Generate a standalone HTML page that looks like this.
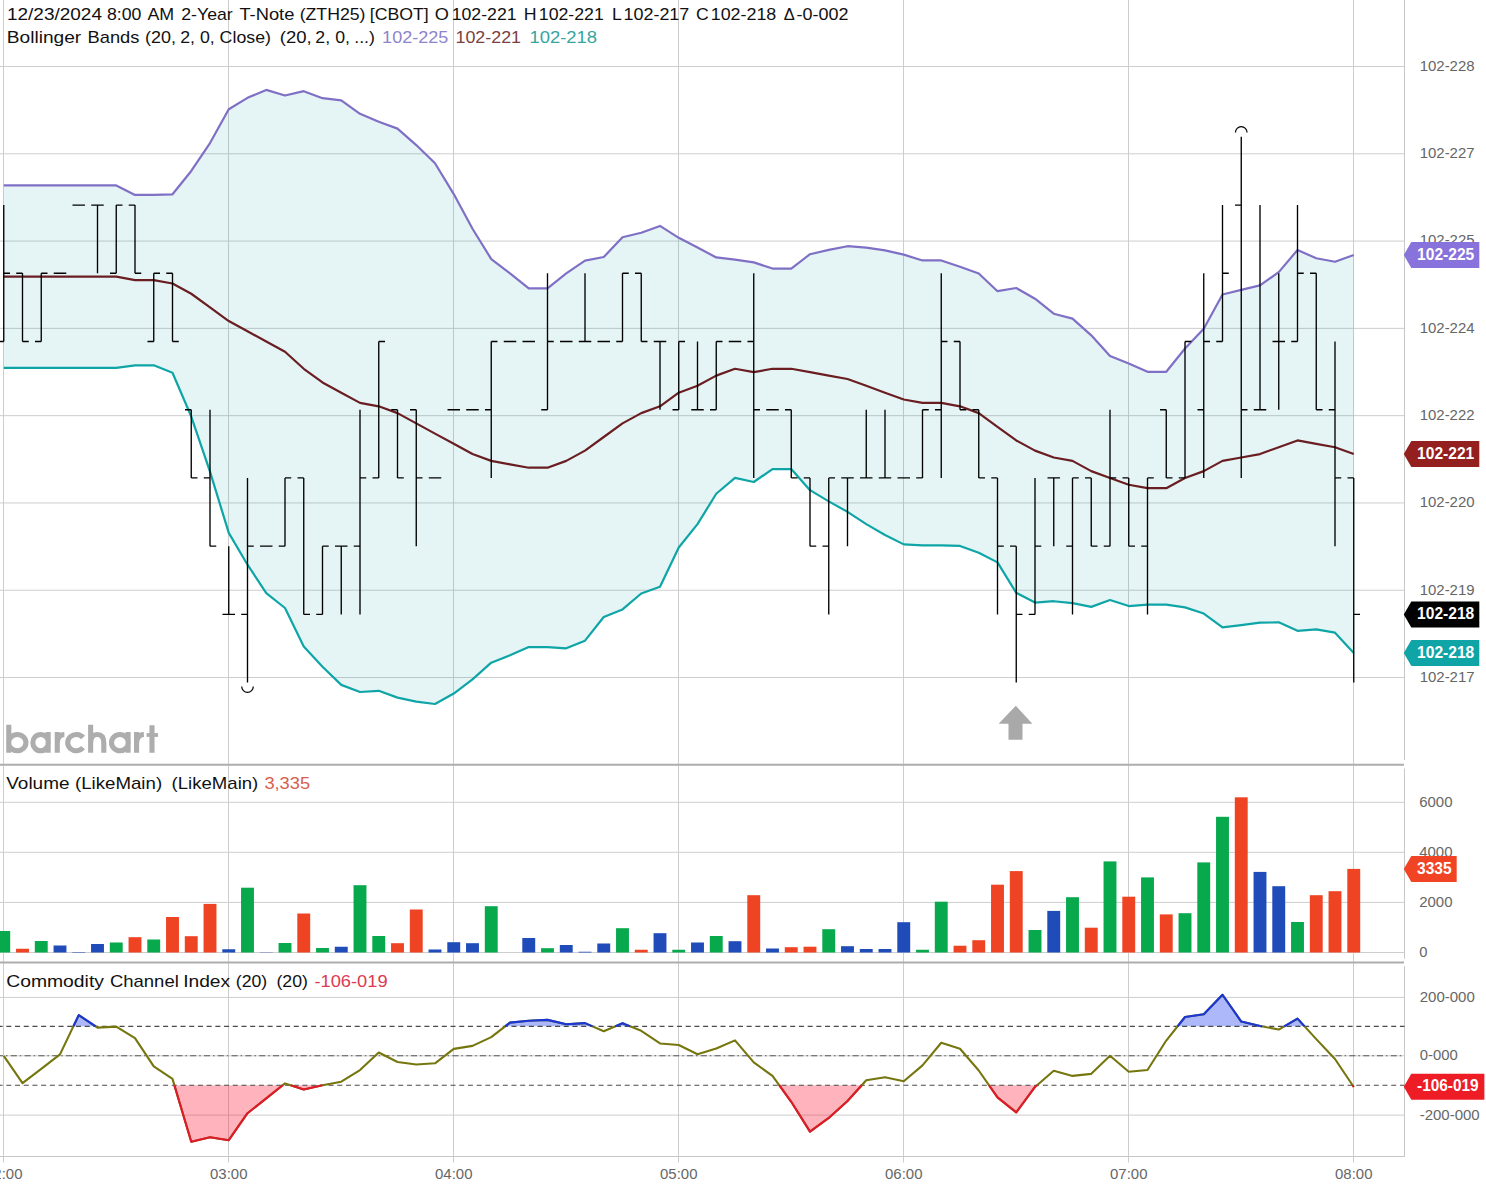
<!DOCTYPE html><html><head><meta charset="utf-8"><title>chart</title><style>html,body{margin:0;padding:0;background:#fff}svg{display:block}</style></head><body><svg width="1486" height="1191" viewBox="0 0 1486 1191" font-family="Liberation Sans, sans-serif">
<defs>
<clipPath id="cpA"><rect x="0" y="1026.37" width="1404.5" height="200"/></clipPath>
<clipPath id="cpUp"><rect x="0" y="960" width="1404.5" height="66.37"/></clipPath>
<clipPath id="cpDn"><rect x="0" y="1085.23" width="1404.5" height="70.77"/></clipPath>
<clipPath id="cpMain"><rect x="0" y="0" width="1404.5" height="764"/></clipPath>
</defs>
<rect width="1486" height="1191" fill="#fff"/>
<path d="M3.5 0V1162.5 M228.5 0V1162.5 M453.5 0V1162.5 M678.5 0V1162.5 M903.5 0V1162.5 M1128.5 0V1162.5 M1353.5 0V1162.5 M0 66.5H1404.5 M0 153.79H1404.5 M0 241.08H1404.5 M0 328.37H1404.5 M0 415.66H1404.5 M0 502.95H1404.5 M0 590.24H1404.5 M0 677.53H1404.5 M0 802.3H1404.5 M0 852.3H1404.5 M0 902.4H1404.5 M0 952.5H1404.5 M0 997.4H1404.5 M0 1115.1H1404.5" stroke="#cdcdcd" stroke-width="1" fill="none"/>
<path d="M1404.5 0V760 M1404.5 768.5V958.6 M1404.5 966.2V1157 M0 1156.5H1404.5" stroke="#c6c6c6" stroke-width="1" fill="none"/>
<path d="M0 764.85H1404 M0 962.5H1404" stroke="#adadad" stroke-width="2" fill="none"/>
<g clip-path="url(#cpMain)">
<polygon points="3.75,185.42 22.5,185.42 41.25,185.42 60,185.42 78.75,185.42 97.5,185.42 116.25,185.42 135,194.9 153.75,194.9 172.5,194.3 191.25,170.95 210,143.09 228.75,109.22 247.5,97.82 266.25,89.92 285,95.48 303.75,91.17 322.5,98.19 341.25,100.43 360,113.79 378.75,121.82 397.5,128.64 416.25,145.08 435,163.2 453.75,194.1 472.5,228.73 491.25,259.09 510,273.28 528.75,288.38 547.5,288.38 566.25,273.44 585,260.61 603.75,257.03 622.5,237.28 641.25,232.77 660,225.94 678.75,237.85 697.5,247.54 716.25,257.45 735,259.64 753.75,262.41 772.5,268.53 791.25,268.53 810,254.24 828.75,249.82 847.5,246.21 866.25,247.54 885,250.38 903.75,254.61 922.5,260.45 941.25,260.45 960,266.67 978.75,273.49 997.5,291.19 1016.25,288.03 1035,298.72 1053.75,313.73 1072.5,318.6 1091.25,335.36 1110,355.9 1128.75,363.49 1147.5,371.8 1166.25,371.8 1185,348.5 1203.75,328.67 1222.5,294.48 1241.25,289.81 1260,285.43 1278.75,272.11 1297.5,250.01 1316.25,258.25 1335,261.79 1353.75,255.05 1353.75,653.07 1335,632.69 1316.25,629.41 1297.5,630.82 1278.75,622.37 1260,622.69 1241.25,625.13 1222.5,627.29 1203.75,613.57 1185,607.38 1166.25,604.55 1147.5,604.55 1128.75,606.03 1110,599.98 1091.25,606.87 1072.5,603.17 1053.75,601.22 1035,602.59 1016.25,592.81 997.5,562.36 978.75,552.77 960,545.95 941.25,545.35 922.5,545.35 903.75,544.36 885,534.95 866.25,524.15 847.5,511.83 828.75,501.4 810,490.16 791.25,469.05 772.5,469.05 753.75,481.99 735,477.94 716.25,493.77 697.5,524.15 678.75,547.48 660,586.67 641.25,593.5 622.5,609.44 603.75,616.98 585,640.69 566.25,648.33 547.5,647.04 528.75,647.04 510,655.31 491.25,662.68 472.5,679.4 453.75,693.56 435,703.99 416.25,701.65 397.5,697.62 378.75,690.8 360,692.01 341.25,684.9 322.5,666.67 303.75,646.4 285,607.99 266.25,593.08 247.5,564.72 228.75,532.85 210,471.69 191.25,416.54 172.5,372.72 153.75,365.31 135,365.31 116.25,367.96 97.5,367.96 78.75,367.96 60,367.96 41.25,367.96 22.5,367.96 3.75,367.96" fill="#0fa5a7" fill-opacity="0.11"/>
<polyline points="3.75,185.42 22.5,185.42 41.25,185.42 60,185.42 78.75,185.42 97.5,185.42 116.25,185.42 135,194.9 153.75,194.9 172.5,194.3 191.25,170.95 210,143.09 228.75,109.22 247.5,97.82 266.25,89.92 285,95.48 303.75,91.17 322.5,98.19 341.25,100.43 360,113.79 378.75,121.82 397.5,128.64 416.25,145.08 435,163.2 453.75,194.1 472.5,228.73 491.25,259.09 510,273.28 528.75,288.38 547.5,288.38 566.25,273.44 585,260.61 603.75,257.03 622.5,237.28 641.25,232.77 660,225.94 678.75,237.85 697.5,247.54 716.25,257.45 735,259.64 753.75,262.41 772.5,268.53 791.25,268.53 810,254.24 828.75,249.82 847.5,246.21 866.25,247.54 885,250.38 903.75,254.61 922.5,260.45 941.25,260.45 960,266.67 978.75,273.49 997.5,291.19 1016.25,288.03 1035,298.72 1053.75,313.73 1072.5,318.6 1091.25,335.36 1110,355.9 1128.75,363.49 1147.5,371.8 1166.25,371.8 1185,348.5 1203.75,328.67 1222.5,294.48 1241.25,289.81 1260,285.43 1278.75,272.11 1297.5,250.01 1316.25,258.25 1335,261.79 1353.75,255.05" fill="none" stroke="#7f70c6" stroke-width="2.2" stroke-linejoin="round"/>
<polyline points="3.75,276.69 22.5,276.69 41.25,276.69 60,276.69 78.75,276.69 97.5,276.69 116.25,276.69 135,280.1 153.75,280.1 172.5,283.51 191.25,293.75 210,307.39 228.75,321.03 247.5,331.27 266.25,341.5 285,351.73 303.75,368.79 322.5,382.43 341.25,392.67 360,402.9 378.75,406.31 397.5,413.13 416.25,423.36 435,433.6 453.75,443.83 472.5,454.06 491.25,460.88 510,464.3 528.75,467.71 547.5,467.71 566.25,460.88 585,450.65 603.75,437.01 622.5,423.36 641.25,413.13 660,406.31 678.75,392.67 697.5,385.84 716.25,375.61 735,368.79 753.75,372.2 772.5,368.79 791.25,368.79 810,372.2 828.75,375.61 847.5,379.02 866.25,385.84 885,392.67 903.75,399.49 922.5,402.9 941.25,402.9 960,406.31 978.75,413.13 997.5,426.78 1016.25,440.42 1035,450.65 1053.75,457.47 1072.5,460.88 1091.25,471.12 1110,477.94 1128.75,484.76 1147.5,488.17 1166.25,488.17 1185,477.94 1203.75,471.12 1222.5,460.88 1241.25,457.47 1260,454.06 1278.75,447.24 1297.5,440.42 1316.25,443.83 1335,447.24 1353.75,454.06" fill="none" stroke="#6a1e22" stroke-width="2.2" stroke-linejoin="round"/>
<polyline points="3.75,367.96 22.5,367.96 41.25,367.96 60,367.96 78.75,367.96 97.5,367.96 116.25,367.96 135,365.31 153.75,365.31 172.5,372.72 191.25,416.54 210,471.69 228.75,532.85 247.5,564.72 266.25,593.08 285,607.99 303.75,646.4 322.5,666.67 341.25,684.9 360,692.01 378.75,690.8 397.5,697.62 416.25,701.65 435,703.99 453.75,693.56 472.5,679.4 491.25,662.68 510,655.31 528.75,647.04 547.5,647.04 566.25,648.33 585,640.69 603.75,616.98 622.5,609.44 641.25,593.5 660,586.67 678.75,547.48 697.5,524.15 716.25,493.77 735,477.94 753.75,481.99 772.5,469.05 791.25,469.05 810,490.16 828.75,501.4 847.5,511.83 866.25,524.15 885,534.95 903.75,544.36 922.5,545.35 941.25,545.35 960,545.95 978.75,552.77 997.5,562.36 1016.25,592.81 1035,602.59 1053.75,601.22 1072.5,603.17 1091.25,606.87 1110,599.98 1128.75,606.03 1147.5,604.55 1166.25,604.55 1185,607.38 1203.75,613.57 1222.5,627.29 1241.25,625.13 1260,622.69 1278.75,622.37 1297.5,630.82 1316.25,629.41 1335,632.69 1353.75,653.07" fill="none" stroke="#0fa5a7" stroke-width="2.2" stroke-linejoin="round"/>
<path d="M3.75 205.06V341.5 M-2.5 341.5H3.75 M3.75 273.28H10 M22.5 273.28V341.5 M16.25 273.28H22.5 M22.5 341.5H28.75 M41.25 273.28V341.5 M35 341.5H41.25 M41.25 273.28H47.5 M53.75 273.28H60 M60 273.28H66.25 M72.5 205.06H78.75 M78.75 205.06H85 M97.5 205.06V273.28 M91.25 205.06H97.5 M97.5 205.06H103.75 M116.25 205.06V273.28 M110 273.28H116.25 M116.25 205.06H122.5 M135 205.06V273.28 M128.75 205.06H135 M135 273.28H141.25 M153.75 273.28V341.5 M147.5 341.5H153.75 M153.75 273.28H160 M172.5 273.28V341.5 M166.25 273.28H172.5 M172.5 341.5H178.75 M191.25 409.72V477.94 M185 409.72H191.25 M191.25 477.94H197.5 M210 409.72V546.16 M203.75 477.94H210 M210 546.16H216.25 M228.75 546.16V614.38 M222.5 614.38H228.75 M228.75 614.38H235 M247.5 477.94V682.6 M241.25 614.38H247.5 M247.5 546.16H253.75 M260 546.16H266.25 M266.25 546.16H272.5 M285 477.94V546.16 M278.75 546.16H285 M285 477.94H291.25 M303.75 477.94V614.38 M297.5 477.94H303.75 M303.75 614.38H310 M322.5 546.16V614.38 M316.25 614.38H322.5 M322.5 546.16H328.75 M341.25 546.16V614.38 M335 546.16H341.25 M341.25 546.16H347.5 M360 409.72V614.38 M353.75 546.16H360 M360 477.94H366.25 M378.75 341.5V477.94 M372.5 477.94H378.75 M378.75 341.5H385 M397.5 409.72V477.94 M391.25 409.72H397.5 M397.5 477.94H403.75 M416.25 409.72V546.16 M410 409.72H416.25 M416.25 477.94H422.5 M428.75 477.94H435 M435 477.94H441.25 M447.5 409.72H453.75 M453.75 409.72H460 M466.25 409.72H472.5 M472.5 409.72H478.75 M491.25 341.5V477.94 M485 409.72H491.25 M491.25 341.5H497.5 M503.75 341.5H510 M510 341.5H516.25 M522.5 341.5H528.75 M528.75 341.5H535 M547.5 273.28V409.72 M541.25 409.72H547.5 M547.5 341.5H553.75 M560 341.5H566.25 M566.25 341.5H572.5 M585 273.28V341.5 M578.75 341.5H585 M585 341.5H591.25 M597.5 341.5H603.75 M603.75 341.5H610 M622.5 273.28V341.5 M616.25 341.5H622.5 M622.5 273.28H628.75 M641.25 273.28V341.5 M635 273.28H641.25 M641.25 341.5H647.5 M660 341.5V409.72 M653.75 341.5H660 M660 341.5H666.25 M678.75 341.5V409.72 M672.5 409.72H678.75 M678.75 341.5H685 M697.5 341.5V409.72 M691.25 409.72H697.5 M697.5 409.72H703.75 M716.25 341.5V409.72 M710 409.72H716.25 M716.25 341.5H722.5 M728.75 341.5H735 M735 341.5H741.25 M753.75 273.28V477.94 M747.5 341.5H753.75 M753.75 409.72H760 M766.25 409.72H772.5 M772.5 409.72H778.75 M791.25 409.72V477.94 M785 409.72H791.25 M791.25 477.94H797.5 M810 477.94V546.16 M803.75 477.94H810 M810 546.16H816.25 M828.75 477.94V614.38 M822.5 546.16H828.75 M828.75 477.94H835 M847.5 477.94V546.16 M841.25 477.94H847.5 M847.5 477.94H853.75 M866.25 409.72V477.94 M860 477.94H866.25 M866.25 477.94H872.5 M885 409.72V477.94 M878.75 477.94H885 M885 477.94H891.25 M897.5 477.94H903.75 M903.75 477.94H910 M922.5 409.72V477.94 M916.25 477.94H922.5 M922.5 409.72H928.75 M941.25 273.28V477.94 M935 409.72H941.25 M941.25 341.5H947.5 M960 341.5V409.72 M953.75 341.5H960 M960 409.72H966.25 M978.75 409.72V477.94 M972.5 409.72H978.75 M978.75 477.94H985 M997.5 477.94V614.38 M991.25 477.94H997.5 M997.5 546.16H1003.75 M1016.25 546.16V682.6 M1010 546.16H1016.25 M1016.25 614.38H1022.5 M1035 477.94V614.38 M1028.75 614.38H1035 M1035 546.16H1041.25 M1053.75 477.94V546.16 M1047.5 477.94H1053.75 M1053.75 477.94H1060 M1072.5 477.94V614.38 M1066.25 546.16H1072.5 M1072.5 477.94H1078.75 M1091.25 477.94V546.16 M1085 477.94H1091.25 M1091.25 546.16H1097.5 M1110 409.72V546.16 M1103.75 546.16H1110 M1110 477.94H1116.25 M1128.75 477.94V546.16 M1122.5 477.94H1128.75 M1128.75 546.16H1135 M1147.5 477.94V614.38 M1141.25 546.16H1147.5 M1147.5 477.94H1153.75 M1166.25 409.72V477.94 M1160 409.72H1166.25 M1166.25 477.94H1172.5 M1185 341.5V477.94 M1178.75 477.94H1185 M1185 341.5H1191.25 M1203.75 273.28V477.94 M1197.5 409.72H1203.75 M1203.75 341.5H1210 M1222.5 205.06V341.5 M1216.25 341.5H1222.5 M1222.5 273.28H1228.75 M1241.25 136.84V477.94 M1235 205.06H1241.25 M1241.25 409.72H1247.5 M1260 205.06V409.72 M1253.75 409.72H1260 M1260 409.72H1266.25 M1278.75 273.28V409.72 M1272.5 341.5H1278.75 M1278.75 341.5H1285 M1297.5 205.06V341.5 M1291.25 341.5H1297.5 M1297.5 273.28H1303.75 M1316.25 273.28V409.72 M1310 273.28H1316.25 M1316.25 409.72H1322.5 M1335 341.5V546.16 M1328.75 409.72H1335 M1335 477.94H1341.25 M1353.75 477.94V682.6 M1347.5 477.94H1353.75 M1353.75 614.38H1360" stroke="#000" stroke-width="1.35" fill="none"/>
<path d="M1235.45 132.5a5.8 5.8 0 0 1 11.6 0" stroke="#000" stroke-width="1.2" fill="none"/>
<path d="M241.7 686.5a5.8 5.8 0 0 0 11.6 0" stroke="#000" stroke-width="1.2" fill="none"/>
</g>
<path d="M1015.8 705.7 L1032.4 723.7 H1022.5 V739.8 H1008.5 V723.7 H998.6 Z" fill="#a9a9a9"/>
<rect x="-2.7" y="931" width="12.9" height="21.5" fill="#07a94c"/>
<rect x="16.05" y="948.75" width="12.9" height="3.75" fill="#ef4423"/>
<rect x="34.8" y="941" width="12.9" height="11.5" fill="#07a94c"/>
<rect x="53.55" y="945.5" width="12.9" height="7" fill="#1f4cb8"/>
<rect x="72.3" y="952" width="12.9" height="0.5" fill="#1f4cb8"/>
<rect x="91.05" y="944" width="12.9" height="8.5" fill="#1f4cb8"/>
<rect x="109.8" y="942.5" width="12.9" height="10" fill="#07a94c"/>
<rect x="128.55" y="937.2" width="12.9" height="15.3" fill="#ef4423"/>
<rect x="147.3" y="939.5" width="12.9" height="13" fill="#07a94c"/>
<rect x="166.05" y="917" width="12.9" height="35.5" fill="#ef4423"/>
<rect x="184.8" y="936.2" width="12.9" height="16.3" fill="#ef4423"/>
<rect x="203.55" y="903.9" width="12.9" height="48.6" fill="#ef4423"/>
<rect x="222.3" y="949.25" width="12.9" height="3.25" fill="#1f4cb8"/>
<rect x="241.05" y="887.7" width="12.9" height="64.8" fill="#07a94c"/>
<rect x="259.8" y="952.25" width="12.9" height="0.25" fill="#1f4cb8"/>
<rect x="278.55" y="943" width="12.9" height="9.5" fill="#07a94c"/>
<rect x="297.3" y="913.5" width="12.9" height="39" fill="#ef4423"/>
<rect x="316.05" y="948" width="12.9" height="4.5" fill="#07a94c"/>
<rect x="334.8" y="946.75" width="12.9" height="5.75" fill="#1f4cb8"/>
<rect x="353.55" y="885.2" width="12.9" height="67.3" fill="#07a94c"/>
<rect x="372.3" y="936" width="12.9" height="16.5" fill="#07a94c"/>
<rect x="391.05" y="943.2" width="12.9" height="9.3" fill="#ef4423"/>
<rect x="409.8" y="909.5" width="12.9" height="43" fill="#ef4423"/>
<rect x="428.55" y="949.5" width="12.9" height="3" fill="#1f4cb8"/>
<rect x="447.3" y="942.2" width="12.9" height="10.3" fill="#1f4cb8"/>
<rect x="466.05" y="943.2" width="12.9" height="9.3" fill="#1f4cb8"/>
<rect x="484.8" y="906.2" width="12.9" height="46.3" fill="#07a94c"/>
<rect x="522.3" y="938" width="12.9" height="14.5" fill="#1f4cb8"/>
<rect x="541.05" y="948.2" width="12.9" height="4.3" fill="#07a94c"/>
<rect x="559.8" y="945" width="12.9" height="7.5" fill="#1f4cb8"/>
<rect x="578.55" y="951.75" width="12.9" height="0.75" fill="#1f4cb8"/>
<rect x="597.3" y="943.5" width="12.9" height="9" fill="#1f4cb8"/>
<rect x="616.05" y="928.2" width="12.9" height="24.3" fill="#07a94c"/>
<rect x="634.8" y="949.75" width="12.9" height="2.75" fill="#ef4423"/>
<rect x="653.55" y="933.2" width="12.9" height="19.3" fill="#1f4cb8"/>
<rect x="672.3" y="949.75" width="12.9" height="2.75" fill="#07a94c"/>
<rect x="691.05" y="942.5" width="12.9" height="10" fill="#1f4cb8"/>
<rect x="709.8" y="936" width="12.9" height="16.5" fill="#07a94c"/>
<rect x="728.55" y="941.2" width="12.9" height="11.3" fill="#1f4cb8"/>
<rect x="747.3" y="895.2" width="12.9" height="57.3" fill="#ef4423"/>
<rect x="766.05" y="948.5" width="12.9" height="4" fill="#1f4cb8"/>
<rect x="784.8" y="947.2" width="12.9" height="5.3" fill="#ef4423"/>
<rect x="803.55" y="946.7" width="12.9" height="5.8" fill="#ef4423"/>
<rect x="822.3" y="929.2" width="12.9" height="23.3" fill="#07a94c"/>
<rect x="841.05" y="946.2" width="12.9" height="6.3" fill="#1f4cb8"/>
<rect x="859.8" y="949" width="12.9" height="3.5" fill="#1f4cb8"/>
<rect x="878.55" y="949" width="12.9" height="3.5" fill="#1f4cb8"/>
<rect x="897.3" y="922.2" width="12.9" height="30.3" fill="#1f4cb8"/>
<rect x="916.05" y="949.75" width="12.9" height="2.75" fill="#07a94c"/>
<rect x="934.8" y="901.7" width="12.9" height="50.8" fill="#07a94c"/>
<rect x="953.55" y="945.75" width="12.9" height="6.75" fill="#ef4423"/>
<rect x="972.3" y="940.2" width="12.9" height="12.3" fill="#ef4423"/>
<rect x="991.05" y="884.7" width="12.9" height="67.8" fill="#ef4423"/>
<rect x="1009.8" y="871.1" width="12.9" height="81.4" fill="#ef4423"/>
<rect x="1028.55" y="930" width="12.9" height="22.5" fill="#07a94c"/>
<rect x="1047.3" y="910.9" width="12.9" height="41.6" fill="#1f4cb8"/>
<rect x="1066.05" y="897.2" width="12.9" height="55.3" fill="#07a94c"/>
<rect x="1084.8" y="927.7" width="12.9" height="24.8" fill="#ef4423"/>
<rect x="1103.55" y="861.4" width="12.9" height="91.1" fill="#07a94c"/>
<rect x="1122.3" y="896.7" width="12.9" height="55.8" fill="#ef4423"/>
<rect x="1141.05" y="877.4" width="12.9" height="75.1" fill="#07a94c"/>
<rect x="1159.8" y="914.4" width="12.9" height="38.1" fill="#ef4423"/>
<rect x="1178.55" y="913.2" width="12.9" height="39.3" fill="#07a94c"/>
<rect x="1197.3" y="862.4" width="12.9" height="90.1" fill="#07a94c"/>
<rect x="1216.05" y="816.8" width="12.9" height="135.7" fill="#07a94c"/>
<rect x="1234.8" y="797.3" width="12.9" height="155.2" fill="#ef4423"/>
<rect x="1253.55" y="871.9" width="12.9" height="80.6" fill="#1f4cb8"/>
<rect x="1272.3" y="886.2" width="12.9" height="66.3" fill="#1f4cb8"/>
<rect x="1291.05" y="922" width="12.9" height="30.5" fill="#07a94c"/>
<rect x="1309.8" y="895.2" width="12.9" height="57.3" fill="#ef4423"/>
<rect x="1328.55" y="891.2" width="12.9" height="61.3" fill="#ef4423"/>
<rect x="1347.3" y="868.9" width="12.9" height="83.6" fill="#ef4423"/>
<polygon points="73.37,1026.37 78.75,1015.1 95.65,1026.37" fill="#1f3ff0" fill-opacity="0.37"/>
<polygon points="505.14,1026.37 510,1022.6 528.75,1020.81 547.5,1019.87 566.25,1024.27 585,1023.1 592.56,1026.37" fill="#1f3ff0" fill-opacity="0.37"/>
<polygon points="615.26,1026.37 622.5,1023.33 630.08,1026.37" fill="#1f3ff0" fill-opacity="0.37"/>
<polygon points="1177.55,1026.37 1185,1017.02 1203.75,1014.18 1222.5,994.76 1241.25,1021.55 1260,1025.94 1262.21,1026.37" fill="#1f3ff0" fill-opacity="0.37"/>
<polygon points="1284.22,1026.37 1297.5,1018.61 1304.59,1026.37" fill="#1f3ff0" fill-opacity="0.37"/>
<polygon points="174.39,1085.23 191.25,1141.7 210,1137.2 228.75,1140.2 247.5,1113.2 266.25,1098.4 282.71,1085.23" fill="#ff0a28" fill-opacity="0.31"/>
<polygon points="290.72,1085.23 303.75,1089.4 322.37,1085.23" fill="#ff0a28" fill-opacity="0.31"/>
<polygon points="779.26,1085.23 791.25,1101.78 810,1131.66 828.75,1117.96 847.5,1100.94 861.79,1085.23" fill="#ff0a28" fill-opacity="0.31"/>
<polygon points="989.01,1085.23 997.5,1097.39 1016.25,1112.44 1035,1086.97 1037.01,1085.23" fill="#ff0a28" fill-opacity="0.31"/>
<polygon points="1352.56,1085.23 1353.75,1087.01 1353.75,1085.23" fill="#ff0a28" fill-opacity="0.31"/>
<path d="M0 1055.8H1404.5" stroke="#cdcdcd" stroke-width="1" fill="none"/>
<path d="M0 1026.37H1404.5 M0 1085.23H1404.5" stroke="#4a4a4a" stroke-width="1.1" stroke-dasharray="5 3.71" stroke-dashoffset="2.4" fill="none"/>
<path d="M0 1055.8H1404.5" stroke="#585858" stroke-width="1.1" stroke-dasharray="6 3 1.5 3.3" stroke-dashoffset="3" fill="none"/>
<polyline points="3.75,1055.9 22.5,1083.2 41.25,1068.9 60,1054.4 78.75,1015.1 97.5,1027.6 116.25,1026.6 135,1038.1 153.75,1066.4 172.5,1078.9 191.25,1141.7 210,1137.2 228.75,1140.2 247.5,1113.2 266.25,1098.4 285,1083.4 303.75,1089.4 322.5,1085.2 341.25,1081.7 360,1070.1 378.75,1052.5 397.5,1062.01 416.25,1064.47 435,1063.3 453.75,1048.86 472.5,1045.9 491.25,1037.14 510,1022.6 528.75,1020.81 547.5,1019.87 566.25,1024.27 585,1023.1 603.75,1031.21 622.5,1023.33 641.25,1030.84 660,1043.48 678.75,1045.05 697.5,1054.2 716.25,1048.53 735,1040.37 753.75,1062.41 772.5,1075.89 791.25,1101.78 810,1131.66 828.75,1117.96 847.5,1100.94 866.25,1080.33 885,1077.26 903.75,1081.23 922.5,1065.35 941.25,1042.72 960,1048.71 978.75,1070.52 997.5,1097.39 1016.25,1112.44 1035,1086.97 1053.75,1070.74 1072.5,1075.91 1091.25,1073.85 1110,1055.8 1128.75,1071.68 1147.5,1070.06 1166.25,1040.56 1185,1017.02 1203.75,1014.18 1222.5,994.76 1241.25,1021.55 1260,1025.94 1278.75,1029.56 1297.5,1018.61 1316.25,1039.13 1335,1058.96 1353.75,1087.01" fill="none" stroke="#76760f" stroke-width="2.1" stroke-linejoin="round"/>
<polyline points="73.37,1026.37 78.75,1015.1 95.65,1026.37" fill="none" stroke="#1a35d8" stroke-width="2.1" stroke-linejoin="round"/>
<polyline points="505.14,1026.37 510,1022.6 528.75,1020.81 547.5,1019.87 566.25,1024.27 585,1023.1 592.56,1026.37" fill="none" stroke="#1a35d8" stroke-width="2.1" stroke-linejoin="round"/>
<polyline points="615.26,1026.37 622.5,1023.33 630.08,1026.37" fill="none" stroke="#1a35d8" stroke-width="2.1" stroke-linejoin="round"/>
<polyline points="1177.55,1026.37 1185,1017.02 1203.75,1014.18 1222.5,994.76 1241.25,1021.55 1260,1025.94 1262.21,1026.37" fill="none" stroke="#1a35d8" stroke-width="2.1" stroke-linejoin="round"/>
<polyline points="1284.22,1026.37 1297.5,1018.61 1304.59,1026.37" fill="none" stroke="#1a35d8" stroke-width="2.1" stroke-linejoin="round"/>
<polyline points="174.39,1085.23 191.25,1141.7 210,1137.2 228.75,1140.2 247.5,1113.2 266.25,1098.4 282.71,1085.23" fill="none" stroke="#e2182c" stroke-width="2.1" stroke-linejoin="round"/>
<polyline points="290.72,1085.23 303.75,1089.4 322.37,1085.23" fill="none" stroke="#e2182c" stroke-width="2.1" stroke-linejoin="round"/>
<polyline points="779.26,1085.23 791.25,1101.78 810,1131.66 828.75,1117.96 847.5,1100.94 861.79,1085.23" fill="none" stroke="#e2182c" stroke-width="2.1" stroke-linejoin="round"/>
<polyline points="989.01,1085.23 997.5,1097.39 1016.25,1112.44 1035,1086.97 1037.01,1085.23" fill="none" stroke="#e2182c" stroke-width="2.1" stroke-linejoin="round"/>
<polyline points="1352.56,1085.23 1353.75,1087.01" fill="none" stroke="#e2182c" stroke-width="2.1" stroke-linejoin="round"/>
<text x="6.95" y="19.9" font-size="17" fill="#111" textLength="95.02" lengthAdjust="spacingAndGlyphs" xml:space="preserve">12/23/2024</text>
<text x="107.03" y="19.9" font-size="17" fill="#111" textLength="34.42" lengthAdjust="spacingAndGlyphs" xml:space="preserve">8:00</text>
<text x="147.48" y="19.9" font-size="17" fill="#111" textLength="26.77" lengthAdjust="spacingAndGlyphs" xml:space="preserve">AM</text>
<text x="181.25" y="19.9" font-size="17" fill="#111" textLength="51.45" lengthAdjust="spacingAndGlyphs" xml:space="preserve">2-Year</text>
<text x="239.43" y="19.9" font-size="17" fill="#111" textLength="54.97" lengthAdjust="spacingAndGlyphs" xml:space="preserve">T-Note</text>
<text x="299.66" y="19.9" font-size="17" fill="#111" textLength="65.81" lengthAdjust="spacingAndGlyphs" xml:space="preserve">(ZTH25)</text>
<text x="369.84" y="19.9" font-size="17" fill="#111" textLength="58.94" lengthAdjust="spacingAndGlyphs" xml:space="preserve">[CBOT]</text>
<text x="434.87" y="19.9" font-size="17" fill="#111" textLength="14.12" lengthAdjust="spacingAndGlyphs" xml:space="preserve">O</text>
<text x="451.66" y="19.9" font-size="17" fill="#111" textLength="64.89" lengthAdjust="spacingAndGlyphs" xml:space="preserve">102-221</text>
<text x="523.76" y="19.9" font-size="17" fill="#111" textLength="12.83" lengthAdjust="spacingAndGlyphs" xml:space="preserve">H</text>
<text x="538.77" y="19.9" font-size="17" fill="#111" textLength="65.07" lengthAdjust="spacingAndGlyphs" xml:space="preserve">102-221</text>
<text x="611.96" y="19.9" font-size="17" fill="#111" textLength="9.85" lengthAdjust="spacingAndGlyphs" xml:space="preserve">L</text>
<text x="623.53" y="19.9" font-size="17" fill="#111" textLength="65.79" lengthAdjust="spacingAndGlyphs" xml:space="preserve">102-217</text>
<text x="695.98" y="19.9" font-size="17" fill="#111" textLength="12.77" lengthAdjust="spacingAndGlyphs" xml:space="preserve">C</text>
<text x="710.74" y="19.9" font-size="17" fill="#111" textLength="65.55" lengthAdjust="spacingAndGlyphs" xml:space="preserve">102-218</text>
<text x="783.84" y="19.9" font-size="17" fill="#111" textLength="11.03" lengthAdjust="spacingAndGlyphs" xml:space="preserve">Δ</text>
<text x="796.51" y="19.9" font-size="17" fill="#111" textLength="51.91" lengthAdjust="spacingAndGlyphs" xml:space="preserve">-0-002</text>
<text x="6.77" y="42.9" font-size="17" fill="#111" textLength="74.46" lengthAdjust="spacingAndGlyphs" xml:space="preserve">Bollinger</text>
<text x="87.52" y="42.9" font-size="17" fill="#111" textLength="51.94" lengthAdjust="spacingAndGlyphs" xml:space="preserve">Bands</text>
<text x="145.01" y="42.9" font-size="17" fill="#111" textLength="30.9" lengthAdjust="spacingAndGlyphs" xml:space="preserve">(20,</text>
<text x="180.27" y="42.9" font-size="17" fill="#111" textLength="14.76" lengthAdjust="spacingAndGlyphs" xml:space="preserve">2,</text>
<text x="199.99" y="42.9" font-size="17" fill="#111" textLength="14.76" lengthAdjust="spacingAndGlyphs" xml:space="preserve">0,</text>
<text x="219.64" y="42.9" font-size="17" fill="#111" textLength="51.32" lengthAdjust="spacingAndGlyphs" xml:space="preserve">Close)</text>
<text x="279.89" y="42.9" font-size="17" fill="#111" textLength="31.87" lengthAdjust="spacingAndGlyphs" xml:space="preserve">(20,</text>
<text x="315.37" y="42.9" font-size="17" fill="#111" textLength="14.76" lengthAdjust="spacingAndGlyphs" xml:space="preserve">2,</text>
<text x="335.29" y="42.9" font-size="17" fill="#111" textLength="14.76" lengthAdjust="spacingAndGlyphs" xml:space="preserve">0,</text>
<text x="354.23" y="42.9" font-size="17" fill="#111" textLength="20.69" lengthAdjust="spacingAndGlyphs" xml:space="preserve">...)</text>
<text x="382.14" y="42.9" font-size="17" fill="#8e84cc" textLength="66.2" lengthAdjust="spacingAndGlyphs" xml:space="preserve">102-225</text>
<text x="455.46" y="42.9" font-size="17" fill="#7c4040" textLength="65.59" lengthAdjust="spacingAndGlyphs" xml:space="preserve">102-221</text>
<text x="529.49" y="42.9" font-size="17" fill="#35a5a0" textLength="67.62" lengthAdjust="spacingAndGlyphs" xml:space="preserve">102-218</text>
<text x="6.25" y="789" font-size="17" fill="#111" textLength="63.24" lengthAdjust="spacingAndGlyphs" xml:space="preserve">Volume</text>
<text x="74.98" y="789" font-size="17" fill="#111" textLength="87.13" lengthAdjust="spacingAndGlyphs" xml:space="preserve">(LikeMain)</text>
<text x="171.59" y="789" font-size="17" fill="#111" textLength="86.73" lengthAdjust="spacingAndGlyphs" xml:space="preserve">(LikeMain)</text>
<text x="264.42" y="789" font-size="17" fill="#d8604a" textLength="45.66" lengthAdjust="spacingAndGlyphs" xml:space="preserve">3,335</text>
<text x="6.2" y="987" font-size="17" fill="#111" textLength="97.77" lengthAdjust="spacingAndGlyphs" xml:space="preserve">Commodity</text>
<text x="109.91" y="987" font-size="17" fill="#111" textLength="68.89" lengthAdjust="spacingAndGlyphs" xml:space="preserve">Channel</text>
<text x="183.18" y="987" font-size="17" fill="#111" textLength="46.99" lengthAdjust="spacingAndGlyphs" xml:space="preserve">Index</text>
<text x="235.76" y="987" font-size="17" fill="#111" textLength="31.44" lengthAdjust="spacingAndGlyphs" xml:space="preserve">(20)</text>
<text x="276.46" y="987" font-size="17" fill="#111" textLength="31.44" lengthAdjust="spacingAndGlyphs" xml:space="preserve">(20)</text>
<text x="314.49" y="987" font-size="17" fill="#db3a50" textLength="73.1" lengthAdjust="spacingAndGlyphs" xml:space="preserve">-106-019</text>
<path d="M8.8 724.7V752.8 M25.95 742.6A8.65 8.15 0 1 1 8.65 742.6A8.65 8.15 0 1 1 25.95 742.6 M48.15 732V752.8 M48.4 742.6A7.8 8.15 0 1 1 32.8 742.6A7.8 8.15 0 1 1 48.4 742.6 M57.25 732V752.8 M57.25 744C57.25 737.5 60 734.7 64.4 734.55 M83.1 737.5A8.65 8.15 0 1 0 83.1 747.7 M90.65 724.7V752.8 M90.65 743C90.65 737.5 93 734.55 97.2 734.55C101.4 734.55 103.8 737.5 103.8 743V752.8 M128.1 732V752.8 M128.3 742.6A8.4 8.15 0 1 1 111.5 742.6A8.4 8.15 0 1 1 128.3 742.6 M136.55 732V752.8 M136.55 744C136.55 737.5 139.3 734.7 143.9 734.55 M152 725.3V752.8" stroke="#adadad" stroke-width="5.1" fill="none"/>
<path d="M146.6 735H158" stroke="#adadad" stroke-width="3.8" fill="none"/>
<text x="1419.7" y="70.9" font-size="15" fill="#666" textLength="54.9" lengthAdjust="spacingAndGlyphs" xml:space="preserve">102-228</text>
<text x="1419.7" y="158.19" font-size="15" fill="#666" textLength="54.9" lengthAdjust="spacingAndGlyphs" xml:space="preserve">102-227</text>
<text x="1419.7" y="245.48" font-size="15" fill="#666" textLength="54.9" lengthAdjust="spacingAndGlyphs" xml:space="preserve">102-225</text>
<text x="1419.7" y="332.77" font-size="15" fill="#666" textLength="54.9" lengthAdjust="spacingAndGlyphs" xml:space="preserve">102-224</text>
<text x="1419.7" y="420.06" font-size="15" fill="#666" textLength="54.9" lengthAdjust="spacingAndGlyphs" xml:space="preserve">102-222</text>
<text x="1419.7" y="507.35" font-size="15" fill="#666" textLength="54.9" lengthAdjust="spacingAndGlyphs" xml:space="preserve">102-220</text>
<text x="1419.7" y="594.64" font-size="15" fill="#666" textLength="54.9" lengthAdjust="spacingAndGlyphs" xml:space="preserve">102-219</text>
<text x="1419.7" y="681.93" font-size="15" fill="#666" textLength="54.9" lengthAdjust="spacingAndGlyphs" xml:space="preserve">102-217</text>
<text x="1419.2" y="806.55" font-size="15" fill="#666" textLength="33.3" lengthAdjust="spacingAndGlyphs" xml:space="preserve">6000</text>
<text x="1419.2" y="856.55" font-size="15" fill="#666" textLength="33.3" lengthAdjust="spacingAndGlyphs" xml:space="preserve">4000</text>
<text x="1419.2" y="906.65" font-size="15" fill="#666" textLength="33.3" lengthAdjust="spacingAndGlyphs" xml:space="preserve">2000</text>
<text x="1419.2" y="956.75" font-size="15" fill="#666" textLength="8.2" lengthAdjust="spacingAndGlyphs" xml:space="preserve">0</text>
<text x="1419.7" y="1002" font-size="15" fill="#666" textLength="55.1" lengthAdjust="spacingAndGlyphs" xml:space="preserve">200-000</text>
<text x="1419.7" y="1060.4" font-size="15" fill="#666" textLength="38" lengthAdjust="spacingAndGlyphs" xml:space="preserve">0-000</text>
<text x="1419.7" y="1119.7" font-size="15" fill="#666" textLength="60" lengthAdjust="spacingAndGlyphs" xml:space="preserve">-200-000</text>
<text x="3.75" y="1178.9" font-size="15" fill="#666" text-anchor="middle" textLength="37.4" lengthAdjust="spacingAndGlyphs" xml:space="preserve">02:00</text>
<text x="228.75" y="1178.9" font-size="15" fill="#666" text-anchor="middle" textLength="37.4" lengthAdjust="spacingAndGlyphs" xml:space="preserve">03:00</text>
<text x="453.75" y="1178.9" font-size="15" fill="#666" text-anchor="middle" textLength="37.4" lengthAdjust="spacingAndGlyphs" xml:space="preserve">04:00</text>
<text x="678.75" y="1178.9" font-size="15" fill="#666" text-anchor="middle" textLength="37.4" lengthAdjust="spacingAndGlyphs" xml:space="preserve">05:00</text>
<text x="903.75" y="1178.9" font-size="15" fill="#666" text-anchor="middle" textLength="37.4" lengthAdjust="spacingAndGlyphs" xml:space="preserve">06:00</text>
<text x="1128.75" y="1178.9" font-size="15" fill="#666" text-anchor="middle" textLength="37.4" lengthAdjust="spacingAndGlyphs" xml:space="preserve">07:00</text>
<text x="1353.75" y="1178.9" font-size="15" fill="#666" text-anchor="middle" textLength="37.4" lengthAdjust="spacingAndGlyphs" xml:space="preserve">08:00</text>
<path d="M1403.8 255.05L1411.3 242.05H1479.3V268.05H1411.3Z" fill="#8872dc"/>
<text x="1417.1" y="259.65" font-size="16.3" font-weight="bold" fill="#fff" textLength="57.2" lengthAdjust="spacingAndGlyphs">102-225</text>
<path d="M1403.8 454.06L1411.3 441.06H1479.3V467.06H1411.3Z" fill="#93201e"/>
<text x="1417.1" y="458.66" font-size="16.3" font-weight="bold" fill="#fff" textLength="57.2" lengthAdjust="spacingAndGlyphs">102-221</text>
<path d="M1403.8 614.38L1411.3 601.38H1479.3V627.38H1411.3Z" fill="#000"/>
<text x="1417.1" y="618.98" font-size="16.3" font-weight="bold" fill="#fff" textLength="57.2" lengthAdjust="spacingAndGlyphs">102-218</text>
<path d="M1403.8 653.07L1411.3 640.07H1479.3V666.07H1411.3Z" fill="#0fa5a7"/>
<text x="1417.1" y="657.67" font-size="16.3" font-weight="bold" fill="#fff" textLength="57.2" lengthAdjust="spacingAndGlyphs">102-218</text>
<path d="M1403.8 868.9L1411.3 855.9H1456.7V881.9H1411.3Z" fill="#f04424"/>
<text x="1417.1" y="873.5" font-size="16.3" font-weight="bold" fill="#fff" textLength="34.5" lengthAdjust="spacingAndGlyphs">3335</text>
<path d="M1403.8 1086.71L1411.3 1073.71H1484.4V1099.71H1411.3Z" fill="#ee1c25"/>
<text x="1417.1" y="1091.31" font-size="16.3" font-weight="bold" fill="#fff" textLength="61.5" lengthAdjust="spacingAndGlyphs">-106-019</text>
</svg></body></html>
